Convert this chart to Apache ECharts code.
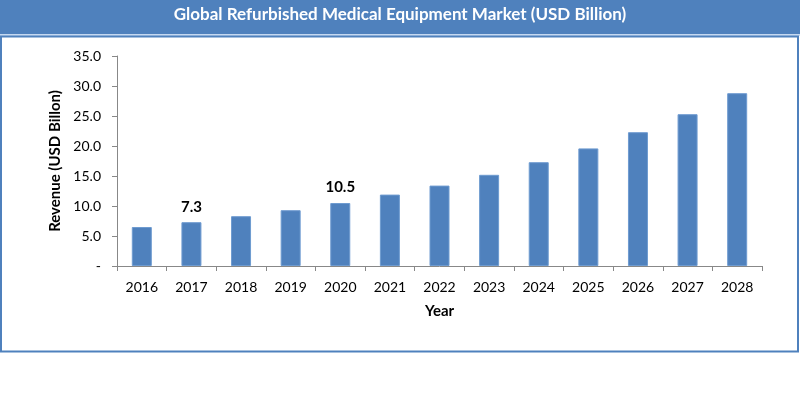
<!DOCTYPE html>
<html><head><meta charset="utf-8">
<script src="https://cdn.jsdelivr.net/npm/echarts@6/dist/echarts.min.js"></script>
<style>html,body{margin:0;padding:0;background:#fff}#c{width:800px;height:394px}</style>
</head><body><div id="c"></div>
<script>
const categories = ['2016','2017','2018','2019','2020','2021','2022','2023','2024','2025','2026','2027','2028'];
const revenue = [6.5, 7.3, 8.3, 9.3, 10.5, 11.9, 13.4, 15.2, 17.3, 19.6, 22.3, 25.3, 28.8];
const labeledYears = ['2017', '2020'];
const titleText = 'Global Refurbished Medical Equipment Market (USD Billion)';
const FONT = 'Lato, "Open Sans", sans-serif';

const chart = echarts.init(document.getElementById('c'), null, {renderer: 'canvas'});
chart.setOption({
  animation: false,
  backgroundColor: '#fff',
  graphic: [
    {type: 'rect', shape: {x: 0, y: 0, width: 800, height: 34}, style: {fill: '#4F81BD'}, z: 0},
    {type: 'rect', shape: {x: 0, y: 34, width: 800, height: 2}, style: {fill: '#C6D9F1'}, z: 0},
    {type: 'rect', shape: {x: 1, y: 36.5, width: 797, height: 315}, style: {fill: 'none', stroke: '#4F81BD', lineWidth: 2}, z: 0},
    {type: 'text', x: 400, y: 15, style: {text: titleText, fill: '#fff', font: 'bold 17px ' + FONT, textAlign: 'center', textVerticalAlign: 'middle'}, z: 10}
  ],
  grid: {left: 117, right: 38, top: 56, bottom: 128, containLabel: false},
  xAxis: {
    type: 'category', data: categories,
    name: 'Year', nameLocation: 'middle', nameGap: 38,
    nameTextStyle: {fontFamily: FONT, fontWeight: 'bold', fontSize: 15, color: '#000'},
    axisLine: {lineStyle: {color: '#888', width: 1}},
    axisTick: {show: true, alignWithLabel: false, length: 5, lineStyle: {color: '#888'}},
    axisLabel: {fontFamily: FONT, fontSize: 14, color: '#000', margin: 14}
  },
  yAxis: {
    type: 'value', min: 0, max: 35, interval: 5,
    name: 'Revenue (USD Billon)', nameLocation: 'middle', nameGap: 54, nameRotate: 90,
    nameTextStyle: {fontFamily: FONT, fontWeight: 'bold', fontSize: 15, color: '#000'},
    axisLine: {show: true, lineStyle: {color: '#888', width: 1}},
    axisTick: {show: true, length: 5, lineStyle: {color: '#888'}},
    splitLine: {show: false},
    axisLabel: {fontFamily: FONT, fontSize: 14, color: '#000', margin: 16,
      formatter: v => v === 0 ? '-' : v.toFixed(1)}
  },
  series: [{
    type: 'bar', barWidth: 20,
    data: revenue.map((v, i) => ({
      value: v,
      label: {show: labeledYears.includes(categories[i])}
    })),
    itemStyle: {color: '#4F81BD', borderColor: '#6E9BD0', borderWidth: 1},
    label: {position: 'top', distance: 8, fontFamily: FONT, fontWeight: 'bold', fontSize: 15, color: '#000',
      formatter: p => p.value.toFixed(1)}
  }]
});
</script></body></html>
